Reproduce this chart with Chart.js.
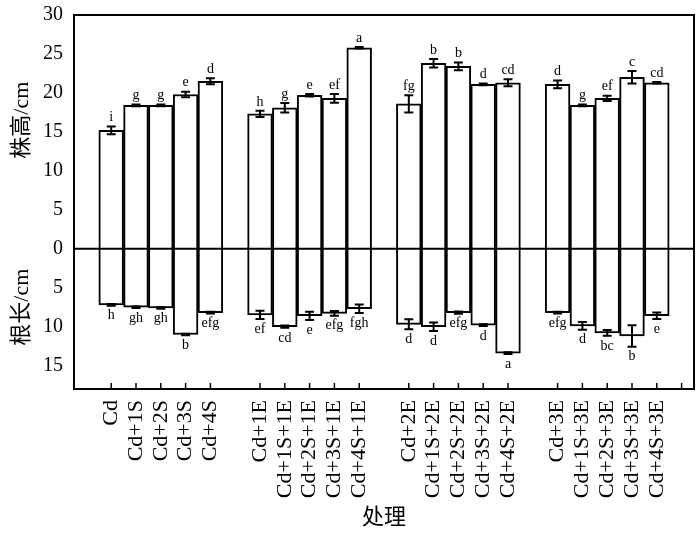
<!DOCTYPE html>
<html><head><meta charset="utf-8">
<script src="https://cdn.jsdelivr.net/npm/chart.js@4.4.1/dist/chart.umd.min.js"></script>
<style>html,body{margin:0;padding:0;background:#fff}</style>
</head><body>
<canvas id="c" width="700" height="533" style="width:700px;height:533px;display:block"></canvas>
<script>
const categories = ['Cd','Cd+1S','Cd+2S','Cd+3S','Cd+4S',
  'Cd+1E','Cd+1S+1E','Cd+2S+1E','Cd+3S+1E','Cd+4S+1E',
  'Cd+2E','Cd+1S+2E','Cd+2S+2E','Cd+3S+2E','Cd+4S+2E',
  'Cd+3E','Cd+1S+3E','Cd+2S+3E','Cd+3S+3E','Cd+4S+3E'];
const plantHeight    = [15.2,18.4,18.4,19.8,21.5, 17.3,18.1,19.7,19.3,25.8, 18.6,23.8,23.4,21.1,21.3, 21.1,18.4,19.3,22.0,21.3];
const plantHeightErr = [0.5,0.1,0.1,0.35,0.38, 0.4,0.6,0.15,0.55,0.1, 1.1,0.55,0.5,0.1,0.45, 0.5,0.1,0.34,0.8,0.1];
const plantHeightSig = ['i','g','g','e','d', 'h','g','e','ef','a', 'fg','b','b','d','cd', 'd','g','ef','c','cd'];
const rootLength     = [7.2,7.5,7.6,11.0,8.2, 8.5,10.0,8.6,8.3,7.7, 9.7,10.0,8.2,9.8,13.4, 8.2,9.9,10.8,11.2,8.6];
const rootLengthErr  = [0.12,0.1,0.1,0.1,0.12, 0.53,0.15,0.53,0.3,0.55, 0.64,0.55,0.15,0.1,0.12, 0.1,0.5,0.38,1.37,0.43];
const rootLengthSig  = ['h','gh','gh','b','efg', 'ef','cd','e','efg','fgh', 'd','d','efg','d','a', 'efg','d','bc','b','e'];
const yTickValues = [-15,-10,-5,0,5,10,15,20,25,30];
const yTitleTop = '株高/cm';
const yTitleBottom = '根长/cm';
const xTitle = '处理';
const groupSize = 5;

const pos = i => i + Math.floor(i / groupSize);
const labelByPos = {};
categories.forEach((c, i) => { labelByPos[pos(i)] = c; });
const xTickPositions = categories.map((c, i) => pos(i)).concat([pos(categories.length - 1) + 1]);

const SERIF = '"Liberation Serif", "Noto Sans CJK SC", serif';

const decor = {
  id: 'decor',
  afterDatasetsDraw(chart) {
    const ctx = chart.ctx, a = chart.chartArea;
    const xs = chart.scales.x, ys = chart.scales.y;
    ctx.save();
    ctx.strokeStyle = '#000';
    ctx.lineWidth = 2;
    const y0 = ys.getPixelForValue(0);
    ctx.beginPath(); ctx.moveTo(a.left, y0); ctx.lineTo(a.right, y0); ctx.stroke();
    ctx.lineWidth = 1.5;
    xTickPositions.forEach(p => {
      const x = xs.getPixelForValue(p);
      ctx.beginPath(); ctx.moveTo(x, a.bottom); ctx.lineTo(x, a.bottom - 6); ctx.stroke();
    });
    ctx.lineWidth = 2;
    ctx.strokeRect(a.left, a.top, a.right - a.left, a.bottom - a.top);
    ctx.fillStyle = '#000';
    ctx.font = '14px ' + SERIF;
    ctx.textAlign = 'center';
    const cap = 4.5;
    categories.forEach((c, i) => {
      const x = xs.getPixelForValue(pos(i));
      let hi = ys.getPixelForValue(plantHeight[i] + plantHeightErr[i]);
      let lo = ys.getPixelForValue(plantHeight[i] - plantHeightErr[i]);
      ctx.lineWidth = 2;
      ctx.beginPath();
      ctx.moveTo(x, hi); ctx.lineTo(x, lo);
      ctx.moveTo(x - cap, hi); ctx.lineTo(x + cap, hi);
      ctx.moveTo(x - cap, lo); ctx.lineTo(x + cap, lo);
      ctx.stroke();
      ctx.textBaseline = 'bottom';
      ctx.fillText(plantHeightSig[i], x, hi - 2);
      hi = ys.getPixelForValue(-rootLength[i] + rootLengthErr[i]);
      lo = ys.getPixelForValue(-rootLength[i] - rootLengthErr[i]);
      ctx.beginPath();
      ctx.moveTo(x, hi); ctx.lineTo(x, lo);
      ctx.moveTo(x - cap, hi); ctx.lineTo(x + cap, hi);
      ctx.moveTo(x - cap, lo); ctx.lineTo(x + cap, lo);
      ctx.stroke();
      ctx.textBaseline = 'top';
      ctx.fillText(rootLengthSig[i], x, lo + 3);
    });
    ctx.font = '22px ' + SERIF;
    ctx.textBaseline = 'middle';
    [[yTitleTop, 16.5], [yTitleBottom, -7.5]].forEach(([t, v]) => {
      ctx.save();
      ctx.translate(22, ys.getPixelForValue(v));
      ctx.rotate(-Math.PI / 2);
      ctx.fillText(t, 0, 0);
      ctx.restore();
    });
    ctx.restore();
  }
};

new Chart(document.getElementById('c'), {
  type: 'bar',
  data: {
    datasets: [
      { label: yTitleTop, data: categories.map((c, i) => ({ x: pos(i), y: plantHeight[i] })),
        backgroundColor: '#fff', borderColor: '#000', borderWidth: 2, borderSkipped: 'start',
        grouped: false, barPercentage: 1, categoryPercentage: 1 },
      { label: yTitleBottom, data: categories.map((c, i) => ({ x: pos(i), y: -rootLength[i] })),
        backgroundColor: '#fff', borderColor: '#000', borderWidth: 2, borderSkipped: 'start',
        grouped: false, barPercentage: 1, categoryPercentage: 1 }
    ]
  },
  options: {
    responsive: false, animation: false, devicePixelRatio: 1,
    layout: { padding: { left: 0, top: 15, right: 6, bottom: 0 } },
    plugins: { legend: { display: false }, tooltip: { enabled: false } },
    scales: {
      x: {
        type: 'linear', min: -1.5, max: 23.5, offset: false,
        grid: { display: false, drawTicks: false }, border: { display: false },
        afterBuildTicks: s => { s.ticks = xTickPositions.map(v => ({ value: v })); },
        afterFit: s => { s.height = 144; s.paddingLeft = 0; s.paddingRight = 0; },
        ticks: { autoSkip: false, maxRotation: 90, minRotation: 90, padding: 11, color: '#000',
          font: { family: SERIF, size: 22 }, callback: v => labelByPos[v] || '' },
        title: { display: true, text: xTitle, color: '#000', font: { family: SERIF, size: 22 },
          padding: { top: 0, bottom: 2 } }
      },
      y: {
        min: -18, max: 30,
        grid: { display: false, drawTicks: false }, border: { display: false },
        afterBuildTicks: s => { s.ticks = yTickValues.map(v => ({ value: v })); },
        afterFit: s => { s.width = 74; s.paddingTop = 0; s.paddingBottom = 0; },
        ticks: { color: '#000', padding: 11, font: { family: SERIF, size: 20 },
          callback: v => String(Math.abs(v)) }
      }
    }
  },
  plugins: [decor]
});
</script>
</body></html>
